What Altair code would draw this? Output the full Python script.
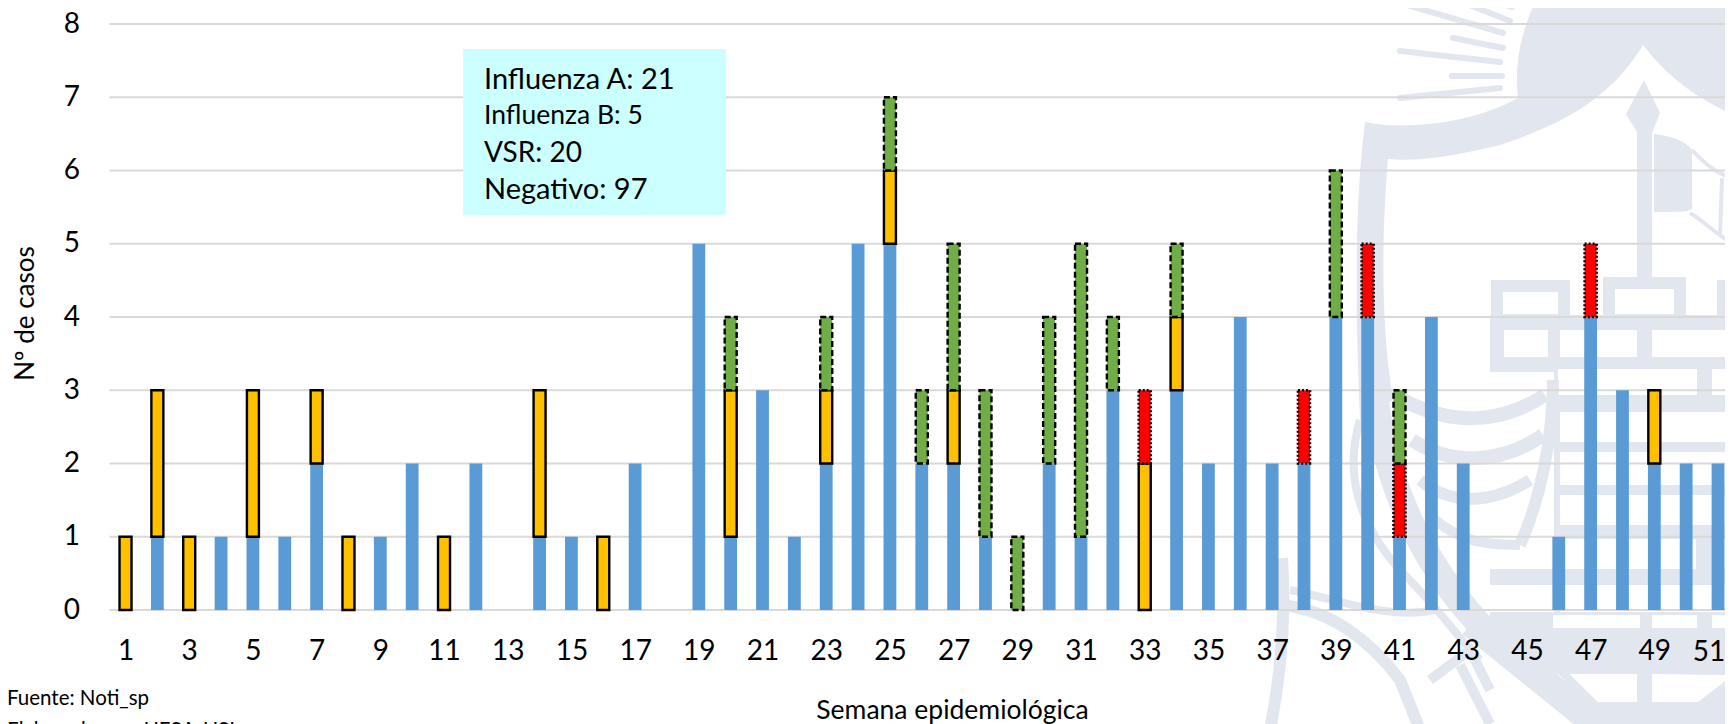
import urllib.parse
import altair as alt
import pandas as pd

weeks = list(range(1, 52))
negativo = [0,1,0,1,1,1,2,0,1,2,0,2,0,1,1,0,2,0,5,1,3,1,2,5,5,2,2,1,0,2,1,3,0,3,2,4,2,2,4,4,1,4,2,0,0,1,4,3,2,2,2]
influenza_a = [1,2,1,0,2,0,1,1,0,0,1,0,0,2,0,1,0,0,0,2,0,0,1,0,1,0,1,0,0,0,0,0,2,1,0,0,0,0,0,0,0,0,0,0,0,0,0,0,1,0,0]
influenza_b = [0,0,0,0,0,0,0,0,0,0,0,0,0,0,0,0,0,0,0,0,0,0,0,0,0,0,0,0,0,0,0,0,1,0,0,0,0,1,0,1,1,0,0,0,0,0,1,0,0,0,0]
vsr = [0,0,0,0,0,0,0,0,0,0,0,0,0,0,0,0,0,0,0,1,0,0,1,0,1,1,2,2,1,2,4,1,0,1,0,0,0,0,2,0,1,0,0,0,0,0,0,0,0,0,0]
grid_values = list(range(0, 9))
x_ticks = list(range(1, 50, 2))
last_tick = [51]
box_lines = ["Influenza A: 21", "Influenza B: 5", "VSR: 20", "Negativo: 97"]

FONT = "Lato"
PX, PY = 109.6, 24      # plot origin on the page
W, H = 1615.4, 586
G = "#E2E6EE"

# Background crest (decorative watermark), page coordinates
def line(a, b, c, d, w=6):
    return f'<line x1="{a}" y1="{b}" x2="{c}" y2="{d}" stroke-width="{w}" stroke-linecap="round"/>'
def frame(a, b, c, d, w=12):
    return f'<rect x="{a}" y="{b}" width="{c-a}" height="{d-b}" fill="none" stroke-width="{w}"/>'
def solid(a, b, c, d):
    return f'<rect x="{a}" y="{b}" width="{c-a}" height="{d-b}" stroke="none"/>'
def cell(a, b, c, d):
    return f'<rect x="{a}" y="{b}" width="{c-a}" height="{d-b}" fill="#fff" stroke="none"/>'
def curve(d, w=10):
    return f'<path d="{d}" fill="none" stroke-width="{w}"/>'
def shape(d):
    return f'<path d="{d}" stroke="none"/>'
def hole(d):
    return f'<path d="{d}" fill="#fff" stroke="none"/>'

parts = [
    line(1407,5,1503,33), line(1462,2,1510,21), line(1490,0,1512,7), line(1453,38,1503,48),
    line(1400,51,1500,62), line(1452,76,1502,76), line(1400,98,1500,88),
    shape('M1365,122 C1400,130 1470,125 1518,98 C1514,60 1522,30 1538,-5 L1740,-5 L1740,118 '
          'C1700,100 1670,80 1643,45 C1610,100 1560,125 1500,145 C1460,155 1420,162 1388,159 '
          'C1382,230 1380,320 1393,400 L1360,420 C1355,300 1355,200 1365,122 Z'),
    curve("M1376,400 C1385,480 1420,560 1480,625 C1530,675 1570,705 1610,730", 26),
    curve("M1360,420 C1345,470 1355,520 1400,570 C1440,610 1460,640 1480,660", 8),
    curve("M1282,558 C1286,620 1280,680 1270,730", 12),
    curve("M1282,605 C1330,610 1370,640 1400,680 L1420,730", 12),
    curve("M1290,590 C1340,600 1390,620 1435,610", 8),
    shape("M1644,80 L1660,113 L1652,133 L1652,277 L1637,277 L1637,132 L1626,114 Z"),
    shape("M1654,134 C1670,136 1685,140 1692,150 L1692,205 C1695,212 1685,212 1654,212 Z"),
    curve("M1692,150 C1710,170 1725,178 1740,180", 4),
    curve("M1690,213 C1710,225 1720,240 1740,245", 4),
    curve("M1722,178 L1720,235", 4),
    frame(1497,286,1564,320), frame(1609,283,1680,320), frame(1723,286,1745,320),
    solid(1490,315,1740,369),
    solid(1554,369,1740,640),
    solid(1490,369,1554,372),
    cell(1504,330,1548,357), cell(1560,330,1637,357), cell(1652,330,1740,357),
    cell(1558,369,1697,395), cell(1712,369,1740,395),
    cell(1560,412,1740,442), cell(1560,452,1740,485), cell(1560,495,1740,525),
    cell(1521,539,1696,569), cell(1712,539,1740,569),
    cell(1560,585,1740,612),
    solid(1490,569,1560,585), solid(1490,612,1740,628),
    cell(1553,615,1640,628), cell(1652,615,1697,628), cell(1712,615,1740,628),
    shape("M1480,628 L1740,628 L1740,730 L1600,730 Z"),
    hole("M1557,674 L1590,702 L1637,702 L1637,674 Z"),
    hole("M1652,674 L1652,702 L1698,702 L1733,675 Z"),
    curve("M1403,400 C1450,425 1500,425 1545,395", 14),
    curve("M1412,440 C1450,465 1500,465 1543,435", 14),
    curve("M1420,480 C1450,505 1490,505 1530,480", 12),
    curve("M1435,520 C1460,540 1480,545 1520,545", 10),
    curve("M1553,380 C1553,440 1540,500 1520,545", 12),
    curve("M1470,625 L1600,730", 24),
    curve("M1530,640 L1620,730", 8),
    curve("M1430,680 L1470,650 L1490,690 M1460,665 L1490,724", 10),
]
svg = (f'<svg xmlns="http://www.w3.org/2000/svg" width="633" height="724" viewBox="1100 0 633 724">'
       f'<g fill="{G}" stroke="{G}">' + "".join(parts) + '</g></svg>')
svg_uri = "data:image/svg+xml;utf8," + urllib.parse.quote(svg)

bottom = [0] * len(weeks)
frames = {}
for name, vals in [("neg", negativo), ("a", influenza_a), ("b", influenza_b), ("v", vsr)]:
    frames[name] = pd.DataFrame(
        [{"week": w, "y0": b, "y1": b + v} for w, b, v in zip(weeks, bottom, vals) if v > 0])
    bottom = [b + v for b, v in zip(bottom, vals)]

x_scale = alt.Scale(domain=[0.5, 0.5 + W / 31.85], nice=False, zero=False, padding=0)
y_scale = alt.Scale(domain=[0, 8], nice=False, padding=0)

y_axis = alt.Axis(values=grid_values, title="Nº de casos", grid=False, domain=False, ticks=False,
                  labelFont=FONT, labelFontSize=28, labelColor="#000", labelPadding=30,
                  titleFont=FONT, titleFontSize=26, titleFontWeight="normal", titleColor="#000",
                  titleX=25.5 - PX, titleY=289, titleBaseline="middle", zindex=1)
x_axis = alt.Axis(values=x_ticks, title="Semana epidemiológica", grid=False, domain=False, ticks=False,
                  labelFont=FONT, labelFontSize=28, labelColor="#000", labelPadding=27,
                  labelFlush=False, labelOverlap=False, format="d",
                  titleFont=FONT, titleFontSize=26.5, titleFontWeight="normal", titleColor="#000",
                  titleX=952 - PX, titleY=100, titleBaseline="middle", zindex=1)

watermark = alt.Chart(pd.DataFrame({"u": [svg_uri]})).mark_image(
    width=633, height=724, align="left", baseline="top", aspect=False
).encode(x=alt.value(1100 - PX), y=alt.value(-PY), url="u:N")

grid = alt.Chart(pd.DataFrame({"g": grid_values})).mark_rule(color="#D9D9D9", strokeWidth=2).encode(
    y=alt.Y("g:Q", scale=y_scale, axis=y_axis))

def bars(name, color, stroke=None, dash=None, sw=2.4):
    kw = {"width": 12.8, "color": color}
    if stroke:
        kw = {"width": 12.0, "color": color, "stroke": stroke, "strokeWidth": sw}
        if dash:
            kw["strokeDash"] = dash
    return alt.Chart(frames[name]).mark_bar(**kw).encode(
        x=alt.X("week:Q", scale=x_scale, axis=x_axis),
        y=alt.Y("y0:Q", scale=y_scale, axis=y_axis), y2="y1:Q")

box = alt.Chart(pd.DataFrame({"a": [0]})).mark_rect(color="#CCFFFF").encode(
    x=alt.value(463 - PX), x2=alt.value(726 - PX), y=alt.value(49 - PY), y2=alt.value(215 - PY))

def note(text, x, y, size):
    return alt.Chart(pd.DataFrame({"t": [text]})).mark_text(
        font=FONT, fontSize=size, align="left", baseline="middle", color="#000"
    ).encode(text="t:N", x=alt.value(x - PX), y=alt.value(y - PY))

last_label = alt.Chart(pd.DataFrame({"w": [str(v) for v in last_tick], "p": last_tick})).mark_text(
    font=FONT, fontSize=28, align="center", baseline="middle", color="#000", dx=-9
).encode(x=alt.X("p:Q", scale=x_scale, axis=x_axis), y=alt.value(653 - PY), text="w:N")

layers = [watermark, grid,
          bars("neg", "#5B9BD5"),
          bars("a", "#FFC000", "#000"),
          bars("b", "#FF0000", "#000", [2, 2], 2.6),
          bars("v", "#70AD47", "#000", [6, 3]),
          box, last_label,
          note(box_lines[0], 484, 80, 29), note(box_lines[1], 484, 116, 26.5),
          note(box_lines[2], 484, 154, 28), note(box_lines[3], 484, 190, 29),
          note("Fuente: Noti_sp", 7, 699, 20.5), note("Elaborado por: UESA-USI", 7, 731, 20.5)]

chart = alt.layer(*layers).resolve_scale(x="shared", y="shared").properties(
    width=W, height=H, background="#ffffff",
    autosize=alt.AutoSizeParams(type="none"),
    padding={"left": PX - 8, "top": PY - 8, "right": 0, "bottom": 114},
).configure_view(stroke=None)

chart.save("out.html", embed_options={"renderer": "svg", "actions": False})
